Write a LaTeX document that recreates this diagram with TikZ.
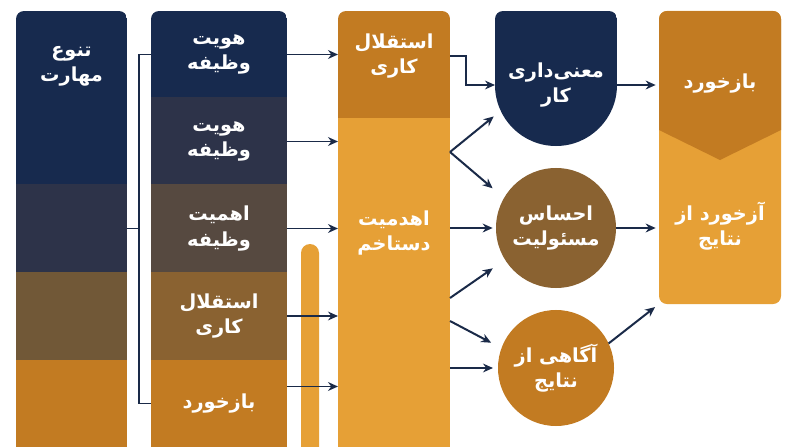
\documentclass[tikz,border=0pt]{standalone}
\usepackage{fontspec}
\newfontfamily\arabicfont[Script=Arabic]{DejaVu Sans}
\TeXXeTstate=1
\usetikzlibrary{arrows.meta}

\definecolor{navyA}{HTML}{172A4E}
\definecolor{slateA}{HTML}{2D3349}
\definecolor{greyB}{HTML}{564940}
\definecolor{brownA}{HTML}{715837}
\definecolor{brownB}{HTML}{8A6231}
\definecolor{ambD}{HTML}{C27B22}
\definecolor{ambL}{HTML}{E6A036}
\definecolor{inkA}{HTML}{1A2A48}

\newcommand{\fa}[1]{\beginR#1\endR}

\begin{document}
\begin{tikzpicture}[x=0.03cm,y=-0.03cm,
	>={Stealth[length=8.5pt,width=7.5pt]},
	seg/.style={minimum width=#1, minimum height=2.64cm, inner sep=0pt, outer sep=0pt},
	lbl/.style={text=white, font=\arabicfont\bfseries\fontsize{16.5}{21.5}\selectfont, align=center},
	link/.style={draw=inkA, line width=1.7pt}]

\useasboundingbox (0,0) rectangle (800,447);
\fill[white] (0,0) rectangle (800,447);

% skill variety
\begin{scope}
\clip[rounded corners=0.24cm] (16,11) rectangle (127,470);
\node[seg=3.33cm, minimum height=5.22cm, fill=navyA] (c1a) at (71.5,98) {};
\node[seg=3.33cm, fill=slateA] (c1b) at (71.5,228.5) {};
\node[seg=3.33cm, fill=brownA] (c1c) at (71.5,316) {};
\node[seg=3.33cm, fill=ambD] (c1d) at (71.5,403.5) {};
\end{scope}
\node[lbl] (tanav) at (71.5,66) {\fa{تنوع}\\\fa{مهارت}};

% core dimensions
\begin{scope}
\clip[rounded corners=0.24cm] (151,11) rectangle (287,470);
\node[seg=4.08cm, lbl, fill=navyA] (t1) at (219,54.5) {\fa{هویت}\\\fa{وظیفه}};
\node[seg=4.08cm, lbl, fill=slateA] (t2) at (219,141.5) {\fa{هویت}\\\fa{وظیفه}};
\node[seg=4.08cm, lbl, fill=greyB] (t3) at (219,228.5) {\fa{اهمیت}\\\fa{وظیفه}};
\node[seg=4.08cm, lbl, fill=brownB] (t4) at (219,316) {\fa{استقلال}\\\fa{کاری}};
\node[seg=4.08cm, lbl, fill=ambD] (t5) at (219,403.5) {\fa{بازخورد}};
\end{scope}

% thin bar
\fill[ambL, rounded corners=0.27cm] (301,244) rectangle (319,470);

% middle column
\begin{scope}
\clip[rounded corners=0.24cm] (338,11) rectangle (450,470);
\node[seg=3.36cm, minimum height=3.21cm, fill=ambD] (k1) at (394,64.5) {};
\node[seg=3.36cm, minimum height=10.26cm, fill=ambL] (k2) at (394,289) {};
\end{scope}
\node[lbl] (k1t) at (394,56) {\fa{استقلال}\\\fa{کاری}};
\node[lbl] (k2t) at (394,233) {\fa{اهدمیت}\\\fa{دستاخم}};

% psychological states
\begin{scope}
\clip[rounded corners=0.24cm] (495,11) rectangle (617,160);
\fill[navyA] (495,11) rectangle (617,85);
\fill[navyA] (556,85) circle[radius=61];
\end{scope}
\node[lbl, circle, minimum size=3.66cm, inner sep=0pt, outer sep=0pt] (mana) at (556,85) {\fa{معنی‌داری}\\\fa{کار}};
\node[lbl, circle, fill=brownB, minimum size=3.6cm, inner sep=0pt, outer sep=0pt] (ehs) at (556,228) {\fa{احساس}\\\fa{مسئولیت}};
\node[lbl, circle, fill=ambD, minimum size=3.48cm, inner sep=0pt, outer sep=0pt] (agh) at (556,368) {\fa{آگاهی از}\\\fa{نتایج}};

% outcomes
\node[fill=ambL, rounded corners=0.24cm, minimum width=3.66cm, minimum height=8.79cm, inner sep=0pt, outer sep=0pt] (fb) at (720,157.5) {};
\begin{scope}
\clip[rounded corners=0.24cm] (fb.south west) rectangle (fb.north east);
\fill[ambD] (659,11) -- (781,11) -- (781,130) -- (720,160) -- (659,130) -- cycle;
\end{scope}
\node[lbl] (fbt1) at (720,84) {\fa{بازخورد}};
\node[lbl] (fbt2) at (720,226) {\fa{آزخورد از}\\\fa{نتایج}};

% bracket
\coordinate (brk) at (139,228.5);
\draw[link, line width=1.4pt] (t1.west) -| (brk) |- (t5.west);
\draw[link, line width=1.4pt] (c1b.east) -- (brk);

% into the middle column
\foreach \s in {t1,t2,t3,t4}
	\draw[link,->] (\s.east) -- (\s.east -| k2.west);
\coordinate (t5a) at ([yshift=0.51cm]t5.east);
\draw[link,->] (t5a) -- (t5a -| k2.west);

% out of the middle column
\coordinate (f1) at (450,152);
\coordinate (f2) at (450,298);
\coordinate (f3) at (450,321);
\draw[link,->] (k1t -| k1.east) -- ++(16,0) |- (mana.west);
\draw[link,->,shorten >=0.27cm] (f1) -- (mana.205);
\draw[link,->,shorten >=0.45cm] (f1) -- (ehs.150);
\draw[link,->,shorten >=0.1cm] (ehs.west -| k2.east) -- (ehs.west);
\draw[link,->,shorten >=0.45cm] (f2) -- (ehs.212);
\draw[link,->,shorten >=0.35cm] (f3) -- (agh.160);
\draw[link,->,shorten >=0.15cm] (agh.west -| k2.east) -- (agh.west);

% to the outcomes
\draw[link,->,shorten >=0.1cm] (mana.east) -- (mana.east -| fb.west);
\draw[link,->,shorten >=0.1cm] (ehs.east) -- (ehs.east -| fb.west);
\draw[link,->,shorten >=0.15cm] (agh.25) -- (fb.south west);

\end{tikzpicture}
\end{document}
